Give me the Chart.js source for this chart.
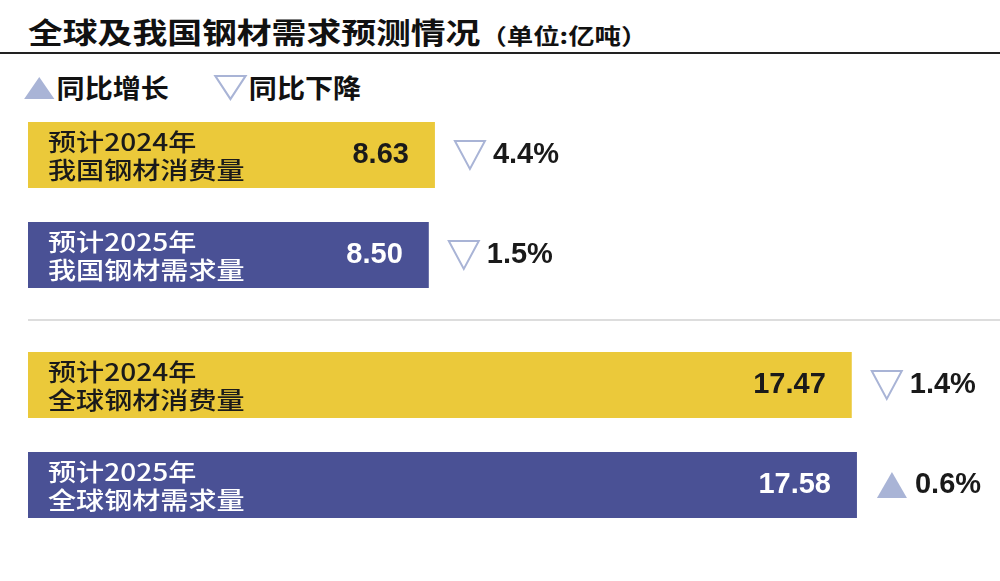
<!DOCTYPE html><html><head><meta charset="utf-8">
<script src="https://cdn.jsdelivr.net/npm/chart.js@4"></script>
<style>
body{margin:0;width:1000px;height:581px;background:#fff;font-family:"Noto Sans CJK SC",sans-serif;position:relative;overflow:hidden}
#title{position:absolute;left:28px;top:10px;font-size:29px;font-weight:bold;color:#111;transform:scaleX(1.2);transform-origin:left top;white-space:nowrap}
#title span{font-size:22px;font-weight:bold}
#rule{position:absolute;left:0;top:52px;width:1000px;height:2px;background:#222}
#legend{position:absolute;left:22px;top:68px;font-size:26px;font-weight:bold;color:#111;transform:scaleX(1.08);transform-origin:left top;white-space:nowrap}
#sep{position:absolute;left:28px;top:319px;width:972px;height:2px;background:#ddd}
.c{position:absolute;left:0;width:1000px;height:200px}
</style></head><body>
<div id="title">全球及我国钢材需求预测情况<span>（单位:亿吨）</span></div>
<div id="rule"></div>
<div id="legend"><svg width="32" height="26" style="vertical-align:-3px"><polygon points="2,24 30,24 16,2" fill="#a9b4d6"/></svg>同比增长　<svg width="34" height="28" style="vertical-align:-3px;margin-left:14px"><polygon points="3,3 31,3 17,26" fill="none" stroke="#a9b4d6" stroke-width="2"/></svg>同比下降</div>
<div id="sep"></div>
<div class="c" style="top:105px"><canvas id="c1" width="1000" height="200"></canvas></div>
<div class="c" style="top:335px"><canvas id="c2" width="1000" height="200"></canvas></div>
<script>
const labels1=[["预计2024年","我国钢材消费量"],["预计2025年","我国钢材需求量"]];
const values1=[8.63,8.50];
const changes1=["4.4%","1.5%"];
const dirs1=["down","down"];
const labels2=[["预计2024年","全球钢材消费量"],["预计2025年","全球钢材需求量"]];
const values2=[17.47,17.58];
const changes2=["1.4%","0.6%"];
const dirs2=["down","up"];
const colors=["#ebc93a","#4a5195"];
const textColors=["#1a1a1a","#ffffff"];
function sText(ctx,t,x,y,sx){ctx.save();ctx.translate(x,y);ctx.scale(sx,1);ctx.fillText(t,0,0);ctx.restore();}
const deco={id:'deco',afterDatasetsDraw(ch){
 const ctx=ch.ctx,meta=ch.getDatasetMeta(0),o=ch.options.plugins.deco;
 meta.data.forEach((b,i)=>{
  ctx.save();ctx.fillStyle=textColors[i];
  ctx.font='500 24px "Noto Sans CJK SC"';ctx.textBaseline='middle';ctx.textAlign='left';
  sText(ctx,o.labels[i][0],48,b.y-13,1.17);sText(ctx,o.labels[i][1],48,b.y+15,1.17);
  ctx.font='bold 29px "Liberation Sans"';ctx.textAlign='right';
  ctx.fillText(o.values[i].toFixed(2),b.x-26,b.y);
  const tx=b.x+20;
  ctx.strokeStyle='#a9b4d6';ctx.fillStyle='#a9b4d6';ctx.lineWidth=2;ctx.beginPath();
  if(o.dirs[i]==='down'){ctx.moveTo(tx,b.y-14);ctx.lineTo(tx+30,b.y-14);ctx.lineTo(tx+15,b.y+14);ctx.closePath();ctx.stroke();}
  else{ctx.moveTo(tx,b.y+13);ctx.lineTo(tx+30,b.y+13);ctx.lineTo(tx+15,b.y-13);ctx.closePath();ctx.fill();}
  ctx.fillStyle='#1a1a1a';ctx.textAlign='left';ctx.font='bold 29px "Liberation Sans"';
  ctx.fillText(o.changes[i],tx+38,b.y);ctx.restore();
 });}};
function make(id,labels,values,changes,dirs){
 new Chart(document.getElementById(id),{type:'bar',plugins:[deco],
  data:{labels:labels.map(l=>l.join('')),datasets:[{data:values,backgroundColor:colors,barPercentage:0.66,categoryPercentage:1}]},
  options:{indexAxis:'y',responsive:false,animation:false,layout:{padding:{left:28,right:28,top:0,bottom:0}},
   scales:{x:{display:false,min:0,max:20.02},y:{display:false}},
   plugins:{legend:{display:false},tooltip:{enabled:false},deco:{labels,values,changes,dirs}}}});
}
make('c1',labels1,values1,changes1,dirs1);
make('c2',labels2,values2,changes2,dirs2);
</script></body></html>
